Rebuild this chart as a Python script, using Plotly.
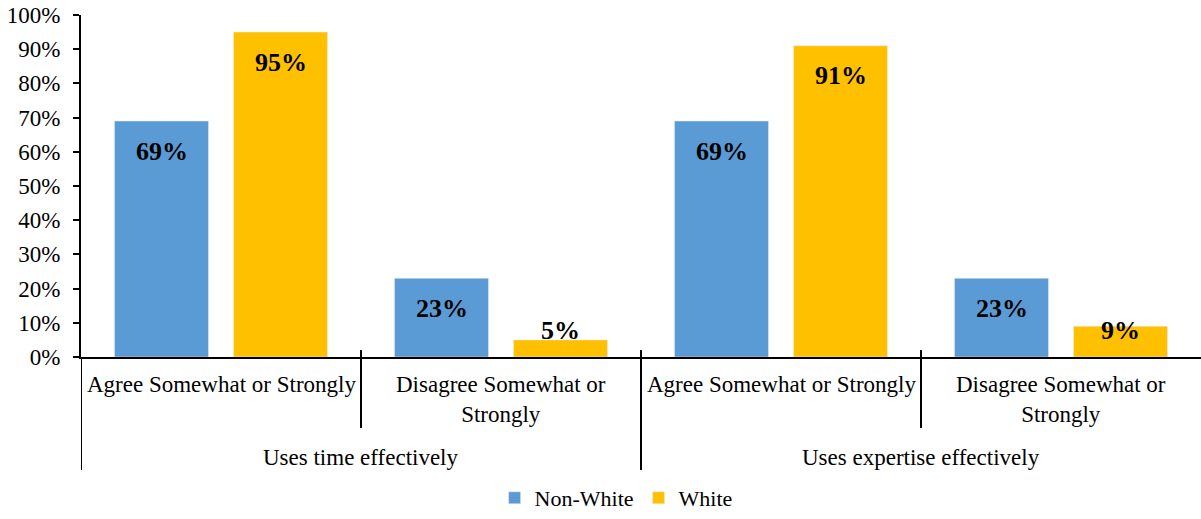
import plotly.graph_objects as go

# Survey results by respondent group
categories = ["Agree Somewhat or Strongly", "Disagree Somewhat or<br>Strongly",
              "Agree Somewhat or Strongly", "Disagree Somewhat or<br>Strongly"]
groups = ["Uses time effectively", "Uses expertise effectively"]
non_white = [0.69, 0.23, 0.69, 0.23]
white = [0.95, 0.05, 0.91, 0.09]
y_ticks = [0, 0.1, 0.2, 0.3, 0.4, 0.5, 0.6, 0.7, 0.8, 0.9, 1.0]

BLUE = "#5B9BD5"
GOLD = "#FFC000"
FONT = "Liberation Serif"
W, H = 1201, 519
M_L, M_R, M_T, M_B = 81, 0, 15, 162
PLOT_H = H - M_T - M_B

x_pos = list(range(len(categories)))

fig = go.Figure()
fig.add_trace(go.Bar(x=x_pos, y=non_white, name="Non-White", marker_color=BLUE))
fig.add_trace(go.Bar(x=x_pos, y=white, name="White", marker_color=GOLD))

# Value labels: near the top inside each bar, lifted off the baseline for short bars
annotations = []
n = len(x_pos)
for series_idx, vals in enumerate([non_white, white]):
    offset = -0.2125 if series_idx == 0 else 0.2125
    for i, v in enumerate(vals):
        top_px = v * PLOT_H
        if top_px - 30 >= 27:
            yv, ys = v, -30
        else:
            yv, ys = 0, 27
        annotations.append(dict(
            x=i + offset, y=yv, xref="x", yref="y", yshift=ys,
            text=f"<b>{round(v * 100)}%</b>", showarrow=False,
            font=dict(family=FONT, size=26, color="black"),
            xanchor="center", yanchor="middle"))

# Category labels under the axis
for i, c in enumerate(categories):
    annotations.append(dict(
        x=i, y=0, xref="x", yref="paper", yshift=-13, text=c, showarrow=False,
        font=dict(family=FONT, size=23, color="black"),
        xanchor="center", yanchor="top"))

# Group labels
for g_idx, g in enumerate(groups):
    annotations.append(dict(
        x=2 * g_idx + 0.5, y=0, xref="x", yref="paper", yshift=-100, text=g,
        showarrow=False, font=dict(family=FONT, size=23, color="black"),
        xanchor="center", yanchor="middle"))

# Divider lines of the two-level category axis
shapes = []
line = dict(color="black", width=2)
for xb, depth in [(-0.5, 113), (0.5, 71), (1.5, 113), (2.5, 71)]:
    shapes.append(dict(type="line", xref="x", yref="paper", ysizemode="pixel",
                       yanchor=0, x0=xb, x1=xb, y0=7 if xb > 0 else 0, y1=-depth,
                       line=line))

fig.update_layout(
    width=W, height=H,
    margin=dict(l=M_L, r=M_R, t=M_T, b=M_B, autoexpand=False),
    paper_bgcolor="white", plot_bgcolor="white",
    barmode="group", bargap=0.15, bargroupgap=0.21,
    font=dict(family=FONT, size=23, color="black"),
    showlegend=True,
    legend=dict(orientation="h", xref="container", yref="container",
                x=0.513, y=0.0, xanchor="center", yanchor="bottom",
                font=dict(family=FONT, size=22, color="black"),
                itemwidth=30, traceorder="normal"),
    annotations=annotations,
    shapes=shapes,
)
fig.update_xaxes(range=[-0.5, n - 0.5], showticklabels=False, showgrid=False,
                 zeroline=False, showline=True, linecolor="black", linewidth=2,
                 ticks="", fixedrange=True)
fig.update_yaxes(range=[0, 1], tickvals=y_ticks, tickformat=".0%", showgrid=False,
                 zeroline=False, showline=True, linecolor="black", linewidth=2,
                 ticks="outside", ticklen=6, tickwidth=2, tickcolor="black",
                 ticklabelstandoff=8,
                 tickfont=dict(family=FONT, size=23, color="black"))

fig.write_html("out.html")
